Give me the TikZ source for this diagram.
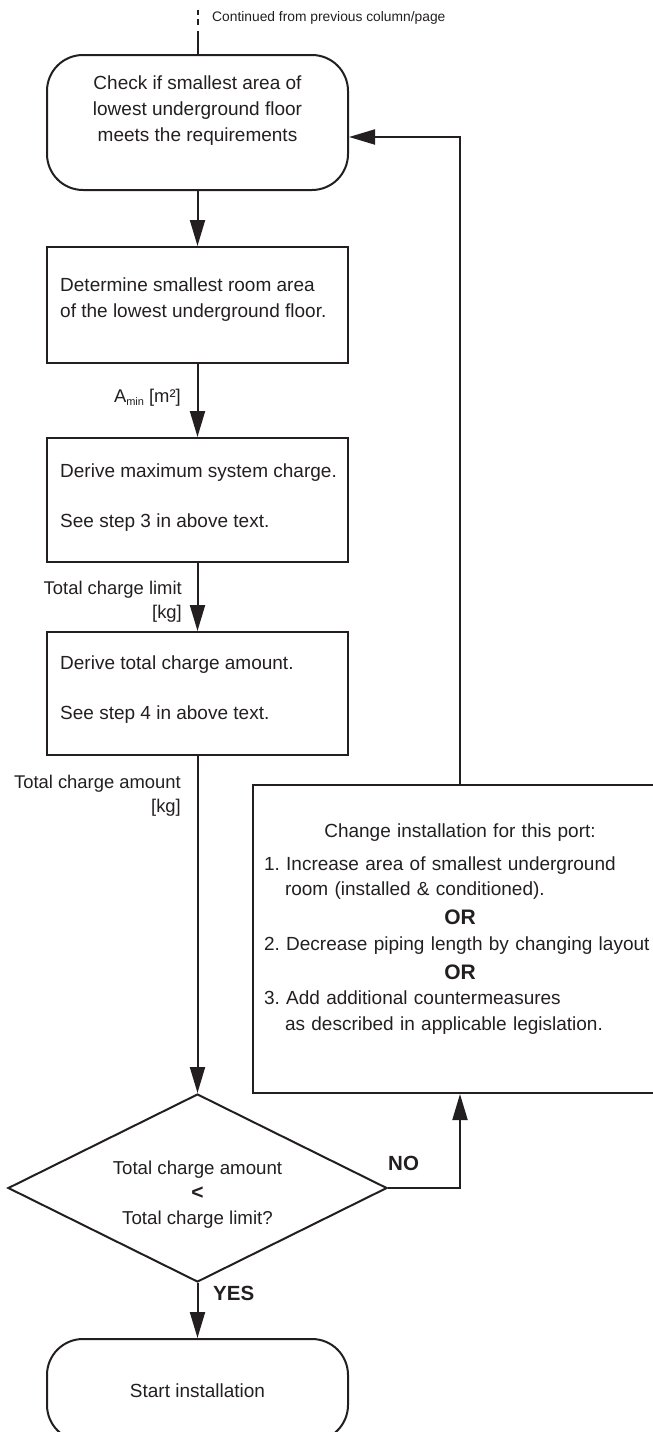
\documentclass[tikz,border=0pt]{standalone}
\usepackage{fontspec}
\setmainfont{Liberation Sans}
\usetikzlibrary{arrows.meta,shapes.geometric}
\definecolor{ink}{HTML}{231F20}
\begin{document}
\begin{tikzpicture}[x=1pt,y=-1pt,
  every node/.style={text=ink, font=\fontsize{19}{25.5}\selectfont\frenchspacing},
  line/.style={draw=ink, line width=2pt},
  arr/.style={line, -{Triangle[length=26pt,width=15pt]}},
  rbox/.style={draw=ink, line width=2pt, rounded corners=36pt, minimum width=301pt, inner sep=0pt},
  sbox/.style={draw=ink, line width=2pt, minimum width=301pt, inner sep=0pt},
  lbl/.style={align=right, inner sep=0pt, font=\fontsize{18.4}{24}\selectfont},
  boldlbl/.style={inner sep=0pt, font=\fontsize{20.5}{24}\selectfont\bfseries},
  btext/.style={align=left, inner sep=0pt}
  ]
\useasboundingbox (0,0) rectangle (653,1432);
\clip (0,0) rectangle (653,1432);

% boxes
\node[rbox, minimum height=135pt] (check) at (197.5,122.5) {};
\node[align=center, inner sep=0pt, font=\fontsize{19}{26}\selectfont] (checkt) at (197.5,111) {Check if smallest area of\\lowest underground floor\\meets the requirements};

\node[sbox, minimum height=116pt] (det) at (197.5,305) {};
\node[btext, anchor=west] (dett) at (60,299.5) {Determine smallest room area\\of the lowest underground floor.};

\node[sbox, minimum height=124pt] (maxc) at (197.5,500) {};
\node[btext, anchor=west] (maxct) at (60,497.5) {Derive maximum system charge.\\[25pt]See step 3 in above text.};

\node[sbox, minimum height=123pt] (tot) at (197.5,693.5) {};
\node[btext, anchor=west] (tott) at (60,689.5) {Derive total charge amount.\\[25pt]See step 4 in above text.};

\node[draw=ink, line width=2pt, minimum width=414pt, minimum height=308pt, inner sep=0pt] (chg) at (460,939) {};
\node[text width=392pt, align=left, inner sep=0pt] (chgt) at (460,929) {%
\makebox[392pt]{Change installation for this port:}\\[7.5pt]
1. Increase area of smallest underground\\
\hspace*{21pt}room (installed \& conditioned).\\[3.5pt]
\makebox[392pt]{\fontsize{21}{25.5}\selectfont\bfseries OR}\\
2. Decrease piping length by changing layout\\[3.5pt]
\makebox[392pt]{\fontsize{21}{25.5}\selectfont\bfseries OR}\\
3. Add additional countermeasures\\
\hspace*{21pt}as described in applicable legislation.};

\node[diamond, draw=ink, line width=2pt, minimum width=379pt, minimum height=188pt, inner sep=0pt] (dec) at (197.5,1188) {};
\node[align=center, inner sep=0pt, font=\fontsize{18.7}{25}\selectfont] (dect) at (197.5,1194.5) {Total charge amount\\{\fontsize{21}{25}\selectfont\bfseries <}\\Total charge limit?};

\node[rbox, minimum height=102pt] (start) at (197.5,1390) {};
\node[inner sep=0pt] (startt) at (197.5,1391) {Start installation};

% top continuation
\coordinate (cont) at (197.5,10);
\coordinate (contb) at (197.5,31);
\draw[line, dash pattern=on 5pt off 4pt on 6pt off 6pt] (cont) -- (contb);
\draw[line] (contb) -- (check.north);
\node[anchor=west, inner sep=0pt, font=\fontsize{13.8}{16}\selectfont] (contl) at (212,17.5) {Continued from previous column/page};

% connectors
\draw[arr] (check.south) -- (det.north);
\draw[arr] (det.south) -- (maxc.north);
\draw[arr] (maxc.south) -- (tot.north);
\draw[arr] (tot.south) -- (dec.north);
\draw[arr] (dec.east) -| (chg.south);
\draw[arr] (chg.north) |- ([yshift=-14.5pt]check.east);
\draw[arr] (dec.south) -- (start.north);

% labels
\node[lbl, anchor=east] (amin) at (181,398) {A\raisebox{-3pt}{\fontsize{11}{11}\selectfont min} [m²]};
\node[lbl, anchor=east] (lim) at (182,602) {Total charge limit\\{[kg]}};
\node[lbl, anchor=east] (amt) at (181,796) {Total charge amount\\{[kg]}};
\node[boldlbl, anchor=west] (yes) at (213,1293) {YES};
\node[boldlbl, anchor=west] (no) at (388,1163) {NO};
\end{tikzpicture}
\end{document}
